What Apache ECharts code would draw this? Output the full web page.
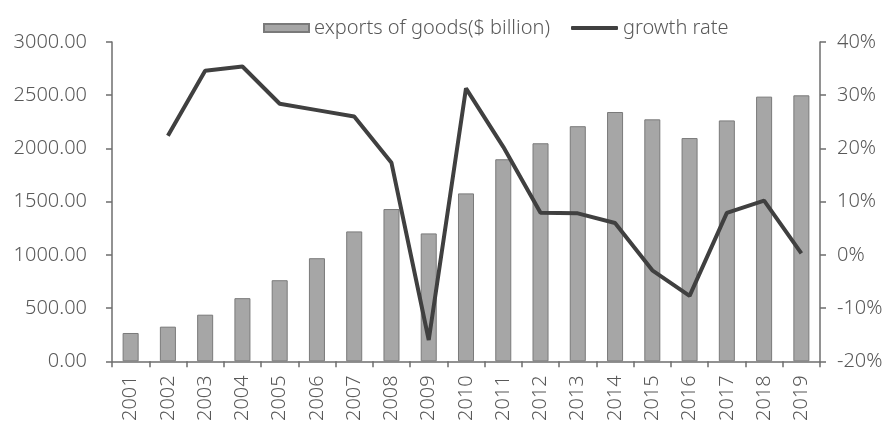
<!DOCTYPE html>
<html>
<head>
<meta charset="utf-8">
<script src="https://cdn.jsdelivr.net/npm/echarts@6/dist/echarts.min.js"></script>
<style>html,body{margin:0;padding:0;background:#fff}#c{width:887px;height:424px}</style>
</head>
<body>
<div id="c"></div>
<script>
var years = ['2001','2002','2003','2004','2005','2006','2007','2008','2009','2010','2011','2012','2013','2014','2015','2016','2017','2018','2019'];
var exportsGoods = [266.1,325.6,438.2,593.3,762.0,968.9,1220.5,1430.7,1201.6,1577.8,1898.4,2048.7,2209.0,2342.3,2273.5,2097.6,2263.3,2486.7,2499.0];
var growthRate = [null,22.4,34.6,35.4,28.4,27.2,26.0,17.3,-16.0,31.3,20.3,7.9,7.8,6.0,-2.9,-7.7,7.9,10.2,0.3];
var leftTicks = {min:0, max:3000, interval:500};
var rightTicks = {min:-20, max:40, interval:10};

var txt = '#595959';
var axisCol = '#6e6e6e';
var font = 'Noto Sans';
var fw = 300;
var fs = 20;
var chart = echarts.init(document.getElementById('c'));
chart.setOption({
  animation:false,
  backgroundColor:'#fff',
  textStyle:{fontFamily:font, fontWeight:fw},
  legend:[{
    top:13, left:258, itemWidth:45, itemHeight:8, itemGap:15,
    textStyle:{color:txt, fontSize:fs, fontFamily:font, fontWeight:fw},
    data:[{name:'exports of goods($ billion)', icon:'rect'}]
  },{
    top:13, left:566, itemWidth:47, itemHeight:4,
    textStyle:{color:txt, fontSize:fs, fontFamily:font, fontWeight:fw},
    data:[{name:'growth rate', icon:'roundRect'}]
  }],
  grid:{left:112, right:67, top:42, bottom:60},
  xAxis:{
    type:'category', data:years, boundaryGap:true,
    axisLine:{lineStyle:{color:axisCol, width:1.5}},
    axisTick:{show:true, inside:false, length:6, alignWithLabel:false, lineStyle:{color:axisCol, width:1.5}},
    axisLabel:{rotate:90, color:txt, fontSize:fs, margin:14, fontFamily:font, fontWeight:fw}
  },
  yAxis:[{
    type:'value', min:leftTicks.min, max:leftTicks.max, interval:leftTicks.interval,
    splitLine:{show:false},
    axisLine:{show:true, lineStyle:{color:axisCol, width:1.5}},
    axisTick:{show:true, inside:false, length:6, lineStyle:{color:axisCol, width:1.5}},
    axisLabel:{color:txt, fontSize:fs, margin:25, fontFamily:font, fontWeight:fw, formatter:function(v){return v.toFixed(2);}}
  },{
    type:'value', min:rightTicks.min, max:rightTicks.max, interval:rightTicks.interval,
    splitLine:{show:false},
    axisLine:{show:true, lineStyle:{color:axisCol, width:1.5}},
    axisTick:{show:true, inside:false, length:6, lineStyle:{color:axisCol, width:1.5}},
    axisLabel:{color:txt, fontSize:fs, margin:17, fontFamily:font, fontWeight:fw, formatter:'{value}%'}
  }],
  series:[{
    name:'exports of goods($ billion)', type:'bar', yAxisIndex:0, data:exportsGoods,
    barWidth:'43%',
    itemStyle:{color:'#a6a6a6', borderColor:'#7a7a7a', borderWidth:1}
  },{
    name:'growth rate', type:'line', yAxisIndex:1, data:growthRate,
    symbol:'none', connectNulls:false,
    lineStyle:{color:'#404040', width:4},
    itemStyle:{color:'#404040'}
  }]
});
</script>
</body>
</html>
